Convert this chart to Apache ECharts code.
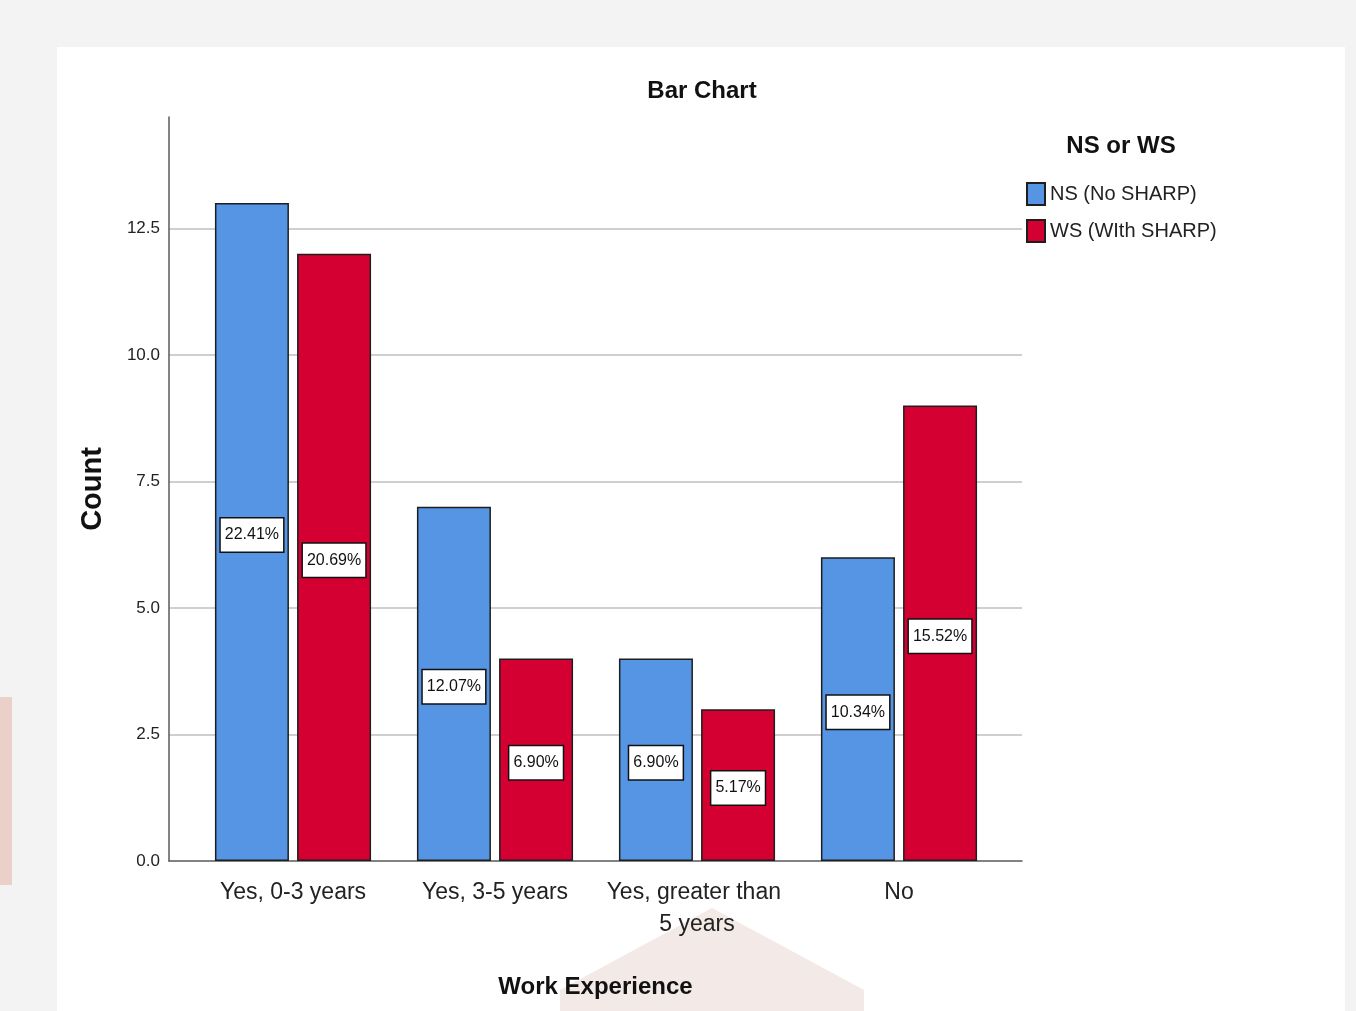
<!DOCTYPE html>
<html>
<head>
<meta charset="utf-8">
<script src="https://cdn.jsdelivr.net/npm/echarts@6/dist/echarts.min.js"></script>
<style>
html,body{margin:0;padding:0;background:#f3f3f3;}
#chart{width:1356px;height:1011px;}
</style>
</head>
<body>
<div id="chart"></div>
<script>
const categories = ['Yes, 0-3 years', 'Yes, 3-5 years', 'Yes, greater than 5 years', 'No'];
const seriesNames = ['NS (No SHARP)', 'WS (WIth SHARP)'];
const nsCounts = [13, 7, 4, 6];
const wsCounts = [12, 4, 3, 9];
const nsPercents = ['22.41%', '12.07%', '6.90%', '10.34%'];
const wsPercents = ['20.69%', '6.90%', '5.17%', '15.52%'];
const yMin = 0;
const yMax = 14.7;
const yInterval = 2.5;

const NARROW = '"Liberation Sans Narrow", "Liberation Sans", Arial, sans-serif';
const REG = '"Liberation Sans", Arial, sans-serif';

const chart = echarts.init(document.getElementById('chart'));

function labelCfg(pcts) {
  return {
    show: true,
    position: 'inside',
    offset: [0, 3],
    formatter: p => pcts[p.dataIndex],
    backgroundColor: '#ffffff',
    borderColor: '#111111',
    borderWidth: 1.5,
    padding: [7, 4, 6, 4],
    fontFamily: NARROW,
    fontSize: 16,
    lineHeight: 20,
    color: '#111111'
  };
}

const option = {
  backgroundColor: '#f3f3f3',
  animation: false,
  graphic: [
    { type: 'rect', z: -10, shape: { x: 57, y: 47, width: 1288, height: 970 }, style: { fill: '#ffffff' } },
    { type: 'rect', z: -10, shape: { x: 0, y: 697, width: 12, height: 188 }, style: { fill: '#ebd0ca' } },
    { type: 'polygon', z: -9, shape: { points: [[712, 908], [560, 990], [560, 1011], [864, 1011], [864, 990]] }, style: { fill: '#f3e9e6' } }
  ],
  title: [
    {
      text: 'Bar Chart', left: 702, top: 79, textAlign: 'center', padding: 0,
      textStyle: { fontFamily: NARROW, fontWeight: 'bold', fontSize: 24, color: '#111' }
    },
    {
      text: 'NS or WS', left: 1121, top: 134, textAlign: 'center', padding: 0,
      textStyle: { fontFamily: NARROW, fontWeight: 'bold', fontSize: 24, color: '#111' }
    }
  ],
  legend: {
    orient: 'vertical',
    left: 1026, top: 182, padding: 0,
    itemWidth: 18, itemHeight: 22, itemGap: 13,
    icon: 'rect',
    data: seriesNames,
    textStyle: { fontFamily: NARROW, fontSize: 20, color: '#222' }
  },
  grid: [
    { left: 169, right: 334, top: 117, bottom: 150 },
    { left: 192, right: 356, top: 117, bottom: 150 }
  ],
  xAxis: [
    {
      type: 'value', gridIndex: 0, min: 0, max: 1,
      axisLine: { show: true, lineStyle: { color: '#5a5a5a', width: 1.5 } },
      axisTick: { show: false }, axisLabel: { show: false }, splitLine: { show: false },
      name: 'Work Experience', nameLocation: 'middle', nameGap: 114,
      nameTextStyle: { fontFamily: NARROW, fontWeight: 'bold', fontSize: 24, color: '#111' }
    },
    {
      type: 'category', gridIndex: 1, data: categories,
      axisLine: { show: false }, axisTick: { show: false },
      axisLabel: {
        fontFamily: NARROW, fontSize: 23, color: '#222', margin: 16, lineHeight: 32,
        width: 185, overflow: 'break', interval: 0
      }
    }
  ],
  yAxis: [
    {
      type: 'value', gridIndex: 0, min: yMin, max: yMax, interval: yInterval,
      axisLine: { show: true, lineStyle: { color: '#5a5a5a', width: 1.5 } },
      axisTick: { show: false },
      axisLabel: {
        showMaxLabel: false, margin: 9,
        fontFamily: NARROW, fontSize: 17, color: '#222',
        formatter: v => (Math.abs(v / yInterval - Math.round(v / yInterval)) < 1e-6 ? v.toFixed(1) : '')
      },
      splitLine: { show: true, showMinLine: false, showMaxLine: false, lineStyle: { color: '#cfcfcf', width: 2 } },
      name: 'Count', nameLocation: 'middle', nameGap: 62, nameRotate: 90,
      nameTextStyle: { fontFamily: REG, fontWeight: 'bold', fontSize: 29, color: '#111' }
    },
    {
      type: 'value', gridIndex: 1, min: yMin, max: yMax, interval: yInterval, show: false,
      splitLine: { show: false }
    }
  ],
  series: [
    {
      name: seriesNames[0], type: 'bar', xAxisIndex: 1, yAxisIndex: 1,
      data: nsCounts, barWidth: 74, barGap: '11%',
      itemStyle: { color: '#5595e3', borderColor: '#1e1e1e', borderWidth: 1.5 },
      label: labelCfg(nsPercents)
    },
    {
      name: seriesNames[1], type: 'bar', xAxisIndex: 1, yAxisIndex: 1,
      data: wsCounts, barWidth: 74, barGap: '11%',
      itemStyle: { color: '#d50032', borderColor: '#1e1e1e', borderWidth: 1.5 },
      label: labelCfg(wsPercents)
    }
  ]
};
chart.setOption(option);
</script>
</body>
</html>
